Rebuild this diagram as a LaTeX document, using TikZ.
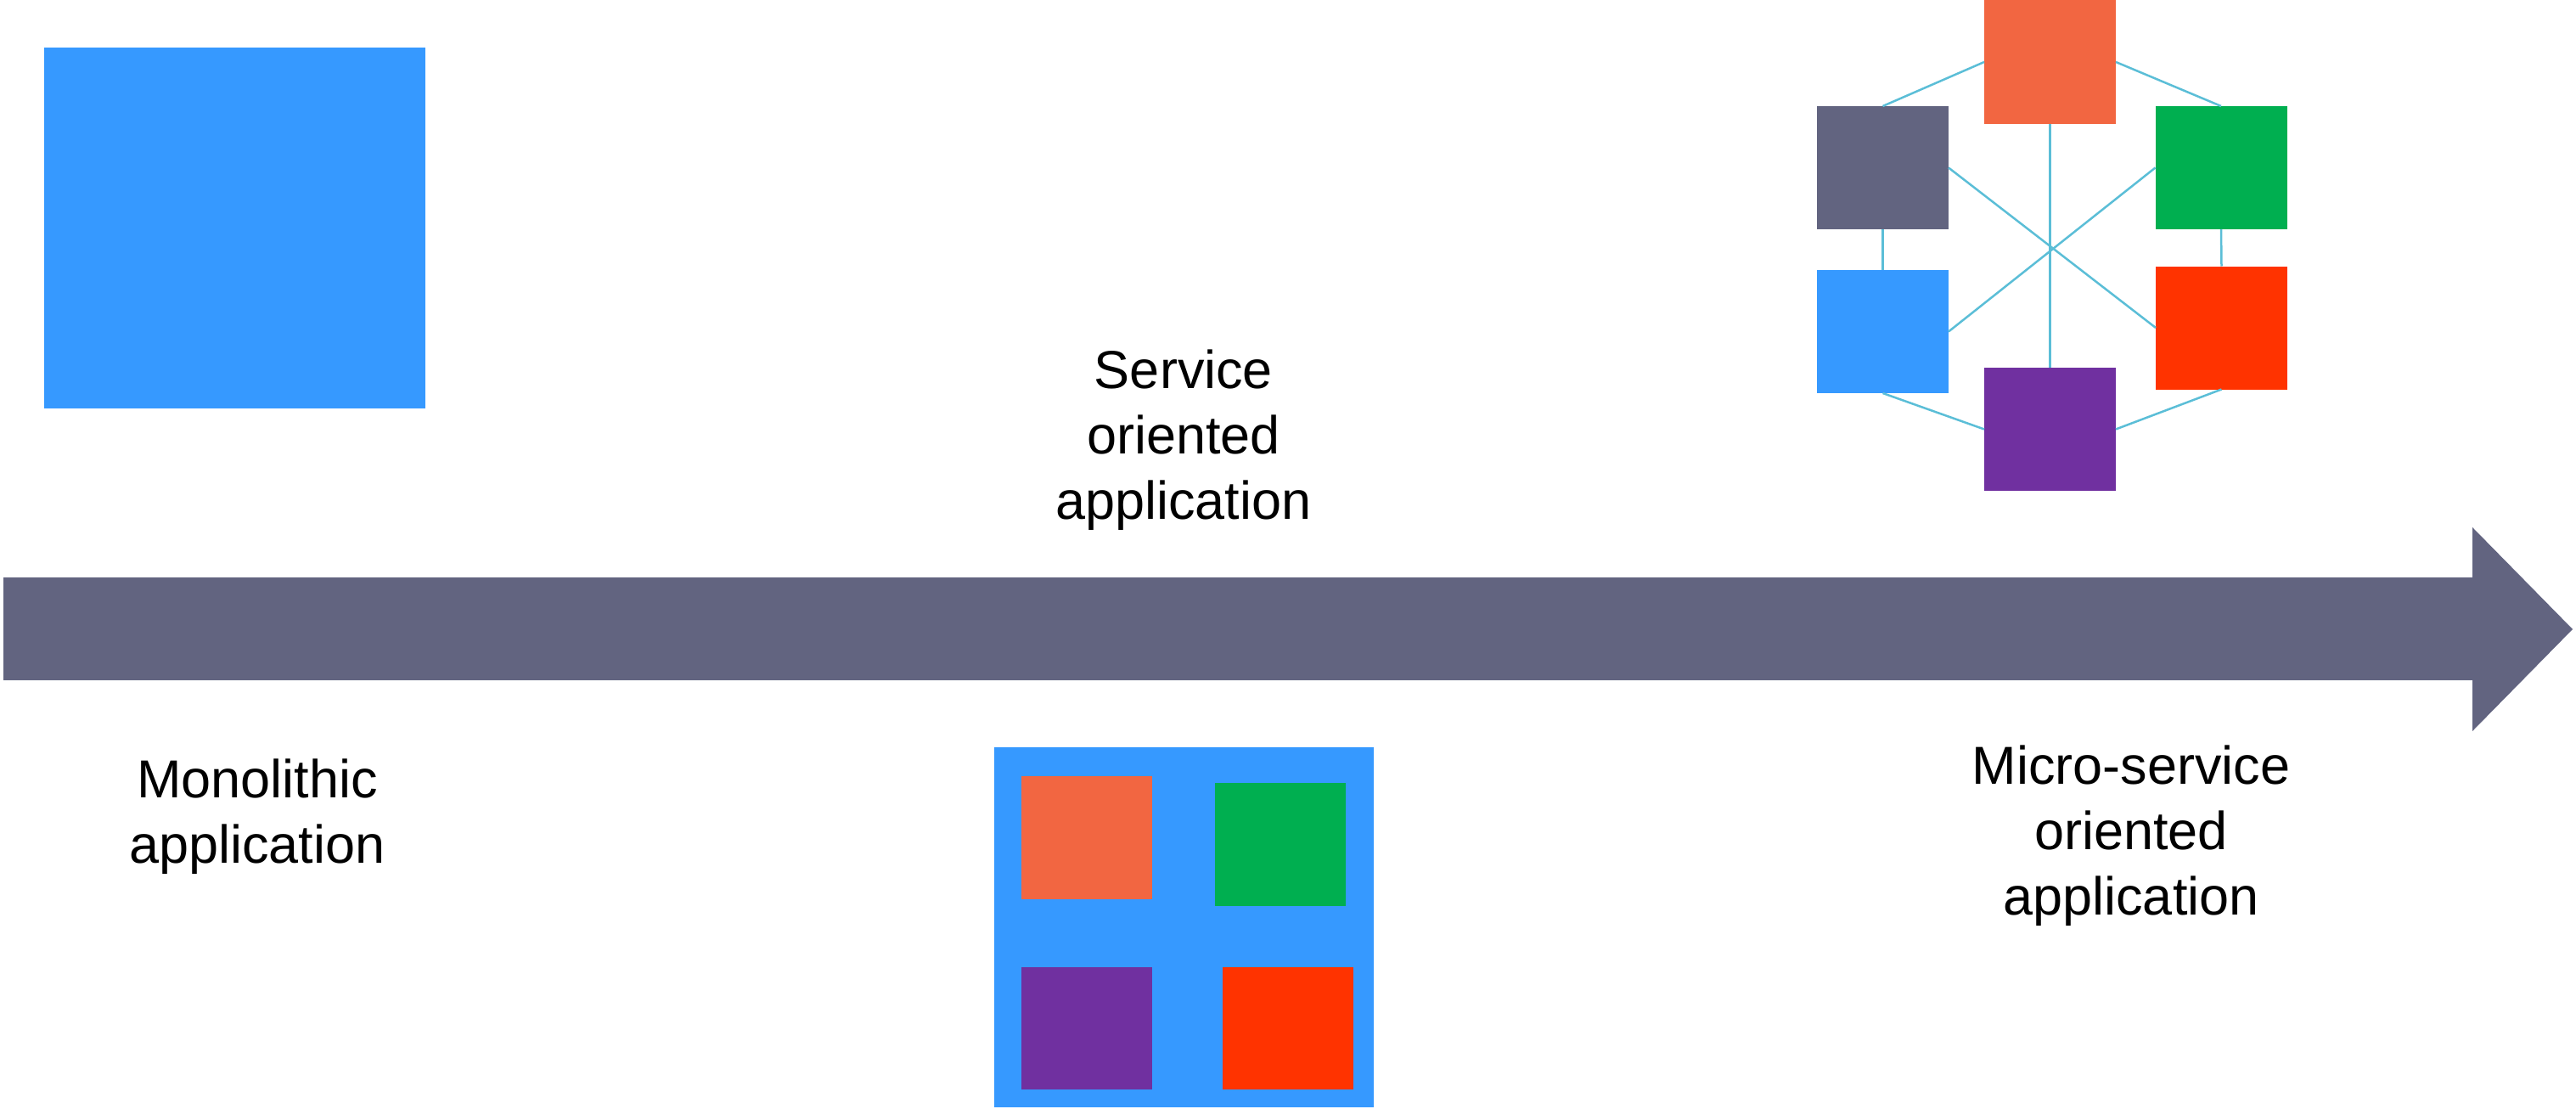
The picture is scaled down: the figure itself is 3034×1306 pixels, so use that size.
\documentclass[tikz,border=0pt]{standalone}
\usepackage{fontspec}
\setmainfont{Liberation Sans}
\definecolor{cblue}{RGB}{54,153,255}
\definecolor{corange}{RGB}{242,102,65}
\definecolor{cgreen}{RGB}{0,175,80}
\definecolor{cred}{RGB}{255,51,0}
\definecolor{cpurple}{RGB}{112,48,160}
\definecolor{cgray}{RGB}{98,100,128}
\definecolor{clink}{RGB}{91,190,215}
\begin{document}
\begin{tikzpicture}[x=1pt,y=-1pt,
  tile/.style={draw=none,inner sep=0pt,outer sep=0pt,minimum width=155pt,minimum height=145pt},
  link/.style={draw=clink,line width=2.5pt},
  label/.style={align=center,inner sep=0pt,anchor=north,font=\fontsize{63}{77}\selectfont}]
\useasboundingbox (0,0) rectangle (3034,1306);
% timeline arrow
\fill[cgray] (4,680) -- (2912,680) -- (2912,621) -- (3030,741) -- (2912,861) -- (2912,801) -- (4,801) -- cycle;
% monolithic
\node[tile,fill=cblue,minimum width=449pt,minimum height=425pt] (mono) at (276.5,268.5) {};
\node[label] (monotext) at (303,894) {Monolithic\\application};
% service oriented
\node[tile,fill=cblue,minimum width=447pt,minimum height=424pt] (soa) at (1394.5,1092) {};
\node[tile,fill=corange,minimum width=154pt] (s1) at (1280,986.5) {};
\node[tile,fill=cgreen,minimum width=154pt] (s2) at (1508,994.5) {};
\node[tile,fill=cpurple,minimum width=154pt,minimum height=144pt] (s3) at (1280,1211) {};
\node[tile,fill=cred,minimum width=154pt,minimum height=144pt] (s4) at (1517,1211) {};
\node[label] (soatext) at (1394,412) {Service\\oriented\\application};
% micro-services
\node[tile,fill=corange] (m1) at (2414.5,73) {};
\node[tile,fill=cgray] (m2) at (2217.5,197.5) {};
\node[tile,fill=cgreen] (m3) at (2616,197.5) {};
\node[tile,fill=cblue] (m4) at (2217.5,390.5) {};
\node[tile,fill=cred] (m5) at (2616.5,386) {};
\node[tile,fill=cpurple] (m6) at (2414.5,505.5) {};
\draw[link] (m1.west) -- (m2.north);
\draw[link] (m1.east) -- (m3.north);
\draw[link] (m1.south) -- (m6.north);
\draw[link] (m2.south) -- (m4.north);
\draw[link] (m3.south) -- (m5.north);
\draw[link] (m2.east) -- (m5.west);
\draw[link] (m3.west) -- (m4.east);
\draw[link] (m4.south) -- (m6.west);
\draw[link] (m5.south) -- (m6.east);
\node[label] (mstext) at (2510,878) {Micro-service\\oriented\\application};
\end{tikzpicture}
\end{document}
